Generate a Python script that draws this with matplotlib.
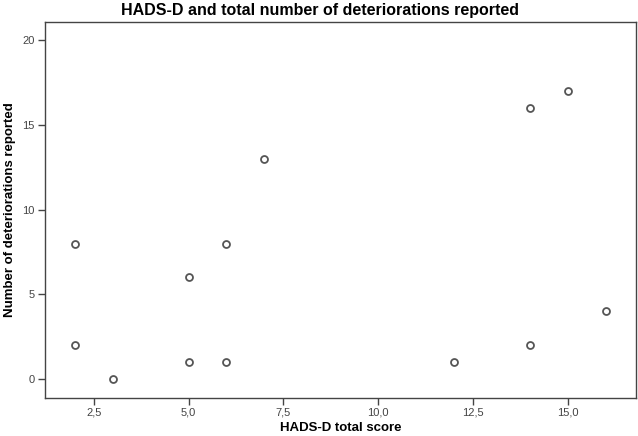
import matplotlib.pyplot as plt
from matplotlib.ticker import FuncFormatter

plt.rcParams['font.family'] = ['Liberation Sans', 'DejaVu Sans']

# HADS-D total score vs number of deteriorations
hads_d = [2, 2, 3, 5, 5, 6, 6, 7, 12, 14, 14, 15, 16]
deteriorations = [8, 2, 0, 6, 1, 8, 1, 13, 1, 16, 2, 17, 4]

xticks = [2.5, 5.0, 7.5, 10.0, 12.5, 15.0]
yticks = [0, 5, 10, 15, 20]

fig = plt.figure(figsize=(6.38, 4.36), dpi=100)
ax = fig.add_axes([0.070, 0.087, 0.927, 0.863])

ax.plot(hads_d, deteriorations, linestyle='none', marker='o', markersize=5,
        markerfacecolor='white', markeredgecolor='#555555', markeredgewidth=1.3)

ax.set_xlim(1.21, 16.79)
ax.set_ylim(-1.12, 21.1)
ax.set_xticks(xticks)
ax.set_yticks(yticks)
ax.xaxis.set_major_formatter(FuncFormatter(lambda v, p: f'{v:.1f}'.replace('.', ',')))

for s in ax.spines.values():
    s.set_color('#444444')
    s.set_linewidth(1.0)
ax.tick_params(direction='out', length=5, width=1.0, color='#444444',
               labelsize=8, labelcolor='#444444', pad=2)

fig.text(0.502, 0.977, 'HADS-D and total number of deteriorations reported',
         fontsize=11.5, fontweight='bold', ha='center', va='center')
ax.set_xlabel('HADS-D total score', fontsize=9.5, fontweight='bold', va='center')
ax.xaxis.set_label_coords(0.5, -0.08)
ax.set_ylabel('Number of deteriorations reported', fontsize=9.5, fontweight='bold', va='center')
ax.yaxis.set_label_coords(-0.059, 0.5)

fig.savefig('out.png', dpi=100)
